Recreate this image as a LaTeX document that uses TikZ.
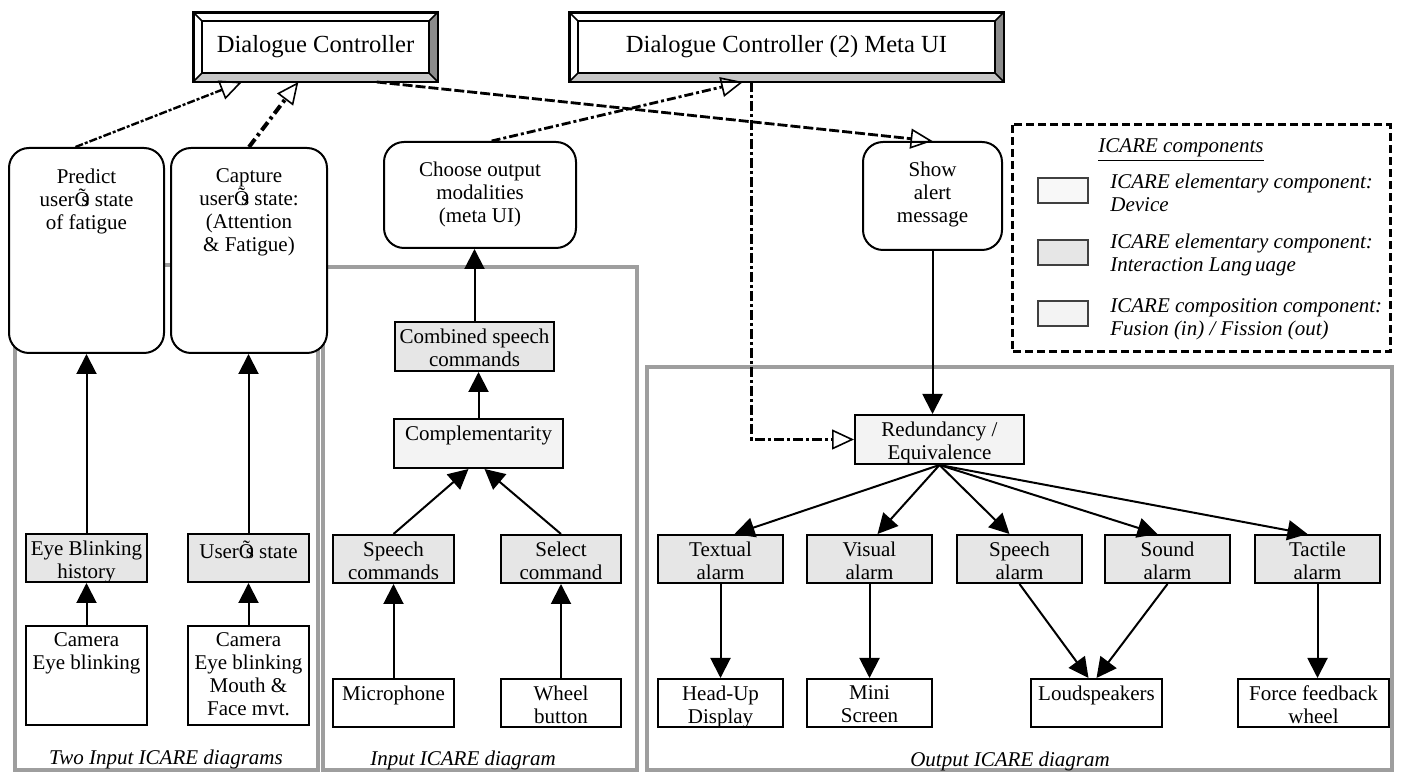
\documentclass[tikz,border=0pt]{standalone}
\usepackage{fontspec}
\setmainfont{Liberation Serif}
\usetikzlibrary{arrows.meta,positioning,calc}
\definecolor{langfill}{HTML}{E6E6E6}
\definecolor{compfill}{HTML}{F3F3F3}
\definecolor{devfill}{HTML}{F8F8F8}
\newcommand{\boxfont}{\fontsize{10.5}{11.5}\selectfont}
\newcommand{\boxtext}[4]{\parbox[c][#2][t]{#1}{\centering\vspace*{#3}#4\par}}
\newcommand{\usrs}{Õ\kern-0.4em s}
\tikzset{
  comp/.style={draw, line width=1pt, inner sep=0pt, anchor=north west, fill=white, font=\boxfont},
  lang/.style={comp, fill=langfill},
  fus/.style={comp, fill=compfill},
  task/.style={comp, rounded corners=10pt},
  ctrl/.style={draw, line width=1pt, inner sep=0pt, anchor=north west, fill=white,
    font=\fontsize{12.3}{14}\selectfont},
  area/.style={draw=black!38, line width=1.6pt},
  flow/.style={-{Triangle[length=10pt,width=10pt]}, line width=1pt},
  ctl/.style={-{Triangle[open,length=11pt,width=10pt,line width=0.8pt]}, line width=1.4pt},
  caption/.style={font=\boxfont\itshape, inner sep=1pt},
  swatch/.style={draw=black!75, line width=0.8pt, anchor=north west, inner sep=0pt,
    minimum width=25pt, minimum height=12.5pt},
  legtext/.style={anchor=north west, align=left, inner sep=0pt,
    font=\fontsize{10.5}{11.5}\selectfont\itshape},
}

\begin{document}
\begin{tikzpicture}[x=0.5pt,y=-0.5pt]
  \useasboundingbox (0,0) rectangle (1403,774);
  % diagram frames
  \draw[area] (15,265) rectangle (318,770);
  \draw[area] (323,267) rectangle (637,770);
  \draw[area] (647,367) rectangle (1392,770);
  \node[caption] (lbltwo) at (166,759) {Two Input ICARE diagrams};
  \node[caption] (lblin) at (463,760) {Input ICARE diagram};
  \node[caption] (lblout) at (1010,761) {Output ICARE diagram};

  % dialogue controllers
  \node[ctrl, minimum width=121.5pt, minimum height=34pt] (dc) at (193,12) {Dialogue Controller};
  \node[ctrl, minimum width=216.5pt, minimum height=34pt] (meta) at (569,12) {Dialogue Controller (2) Meta UI};
  \foreach \c in {dc,meta}{
    \fill[black!45] (\c.north east) -- (\c.south east) -- ($(\c.south east)+(-4.5pt,4.5pt)$)
      -- ($(\c.north east)+(-4.5pt,-4.5pt)$) -- cycle;
    \fill[black!22] (\c.south west) -- (\c.south east) -- ($(\c.south east)+(-4.5pt,4.5pt)$)
      -- ($(\c.south west)+(4.5pt,4.5pt)$) -- cycle;
    \draw[line width=0.8pt] ($(\c.south west)+(4.5pt,4.5pt)$) rectangle ($(\c.north east)+(-4.5pt,-4.5pt)$);
    \draw[line width=0.8pt] (\c.north west) -- +(4.5pt,-4.5pt)
      (\c.north east) -- +(-4.5pt,-4.5pt)
      (\c.south west) -- +(4.5pt,4.5pt)
      (\c.south east) -- +(-4.5pt,4.5pt);
    \draw[line width=1pt] (\c.south west) rectangle (\c.north east);
  }

  % tasks
  \node[task] (predict) at (8,147) {\boxtext{77.5pt}{102.5pt}{10.5pt}{Predict\\user\usrs{} state\\of fatigue}};
  \node[task] (capture) at (170,147) {\boxtext{78pt}{102.5pt}{10.5pt}{Capture\\user\usrs{} state:\\(Attention\\\& Fatigue)}};
  \node[task] (choose) at (383,141) {\boxtext{96pt}{53pt}{10pt}{Choose output\\modalities\\(meta UI)}};
  \node[task] (show) at (862,141) {\boxtext{69.5pt}{54pt}{10pt}{Show\\alert\\message}};

  % two input diagrams
  \node[lang] (ebh) at (25,533) {\boxtext{60.5pt}{24pt}{3.5pt}{Eye Blinking\\history}};
  \node[lang] (ust) at (187,533) {\boxtext{60.5pt}{24pt}{3.5pt}{User\usrs{} state}};
  \node[comp] (cam1) at (25,625) {\boxtext{60.5pt}{49.5pt}{3.5pt}{Camera\\Eye blinking}};
  \node[comp] (cam2) at (187,625) {\boxtext{60.5pt}{49.5pt}{3.5pt}{Camera\\Eye blinking\\Mouth \&\\Face mvt.}};

  % input diagram
  \node[lang] (comb) at (394,321) {\boxtext{79.5pt}{24.5pt}{3.5pt}{Combined speech\\commands}};
  \node[fus] (compl) at (393,418) {\boxtext{84.5pt}{24.5pt}{3.5pt}{Complementarity}};
  \node[lang] (spc) at (332,534) {\boxtext{60.5pt}{24pt}{3.5pt}{Speech\\commands}};
  \node[lang] (sel) at (500,534) {\boxtext{60pt}{24pt}{3.5pt}{Select\\command}};
  \node[comp] (mic) at (332,678) {\boxtext{60.5pt}{24pt}{3.5pt}{Microphone}};
  \node[comp] (whl) at (500,678) {\boxtext{60pt}{24pt}{3.5pt}{Wheel\\button}};

  % output diagram
  \node[fus] (red) at (854,414) {\boxtext{84.5pt}{24.5pt}{3.5pt}{Redundancy /\\Equivalence}};
  \node[lang] (txt) at (657,534) {\boxtext{62.5pt}{24pt}{3.5pt}{Textual\\alarm}};
  \node[lang] (vis) at (806,534) {\boxtext{62.5pt}{24pt}{3.5pt}{Visual\\alarm}};
  \node[lang] (spa) at (956,534) {\boxtext{62.5pt}{24pt}{3.5pt}{Speech\\alarm}};
  \node[lang] (snd) at (1104,534) {\boxtext{62.5pt}{24pt}{3.5pt}{Sound\\alarm}};
  \node[lang] (tac) at (1254,534) {\boxtext{62.5pt}{24pt}{3.5pt}{Tactile\\alarm}};
  \node[comp] (hud) at (657,678) {\boxtext{62.5pt}{24pt}{3.5pt}{Head-Up\\Display}};
  \node[comp] (mini) at (806,678) {\boxtext{62.5pt}{24pt}{3.5pt}{Mini\\Screen}};
  \node[comp] (loud) at (1030,678) {\boxtext{65.5pt}{24pt}{3.5pt}{Loudspeakers}};
  \node[comp] (force) at (1237,678) {\boxtext{75.5pt}{24pt}{3.5pt}{Force feedback\\wheel}};

  % data flow
  \draw[flow] (cam1.north) -- (ebh.south);
  \draw[flow] (cam2.north) -- (ust.south);
  \draw[flow] (ebh.north) -- (ebh.north |- predict.south);
  \draw[flow] (ust.north) -- (ust.north |- capture.south);
  \draw[flow] (mic.north) -- (spc.south);
  \draw[flow] (whl.north) -- (sel.south);
  \draw[flow] (spc.north) -- ($(compl.south)+(-5pt,0)$);
  \draw[flow] (sel.north) -- ($(compl.south)+(3pt,0)$);
  \draw[flow] (compl.north) -- (compl.north |- comb.south);
  \draw[flow] (comb.north) -- (comb.north |- choose.south);
  \draw[flow] (show.south) -- (show.south |- red.north);
  \foreach \a/\dx in {txt/7pt,vis/4pt,spa/-5pt,snd/-5pt,tac/-5pt}
    \draw[flow] (red.south) -- ($(\a.north)+(\dx,0)$);
  \draw[flow] (txt.south) -- (hud.north);
  \draw[flow] (vis.south) -- (mini.north);
  \draw[flow] (spa.south) -- ($(loud.north)+(-4pt,0)$);
  \draw[flow] (snd.south) -- ($(loud.north)+(0pt,0)$);
  \draw[flow] (tac.south) -- (tac.south |- force.north);

  % control links
  \draw[ctl, line width=1.2pt, dash pattern=on 4pt off 1pt on 1.5pt off 1pt]
    ($(predict.north west)!0.43!(predict.north east)$) -- ($(dc.south west)!0.2!(dc.south east)$);
  \draw[ctl, line width=2pt, dash pattern=on 5pt off 2pt on 1.5pt off 2pt]
    (capture.north) -- ($(dc.south west)!0.43!(dc.south east)$);
  \draw[ctl, dash pattern=on 5pt off 1.5pt]
    ($(dc.south west)!0.75!(dc.south east)$) -- (show.north);
  \draw[ctl, dash pattern=on 4.5pt off 1.5pt on 1.5pt off 1.5pt]
    ($(choose.north west)!0.56!(choose.north east)$) -- ($(meta.south west)!0.4!(meta.south east)$);
  \draw[ctl, line width=1.3pt, dash pattern=on 5pt off 1.5pt on 1.5pt off 1.5pt]
    ($(meta.south west)!0.42!(meta.south east)$) |- (red.west);

  % legend
  \draw[line width=1.5pt, dash pattern=on 4pt off 2pt] (1012,125) rectangle (1390,352);
  \node[font=\boxfont\itshape, inner sep=1pt] (legtitle) at (1181,150) {\underline{ICARE components}};
  \node[swatch, fill=devfill] (swdev) at (1037,177) {};
  \node[swatch, fill=langfill] (swlang) at (1037,239) {};
  \node[swatch, fill=compfill] (swcomp) at (1037,300) {};
  \node[legtext] (legdev) at (1110,174) {ICARE elementary component:\\Device};
  \node[legtext] (leglang) at (1110,234) {ICARE elementary component:\\Interaction Lang\kern1.5pt uage};
  \node[legtext] (legcomp) at (1110,298) {ICARE composition component:\\Fusion (in) / Fission (out)};
\end{tikzpicture}
\end{document}
